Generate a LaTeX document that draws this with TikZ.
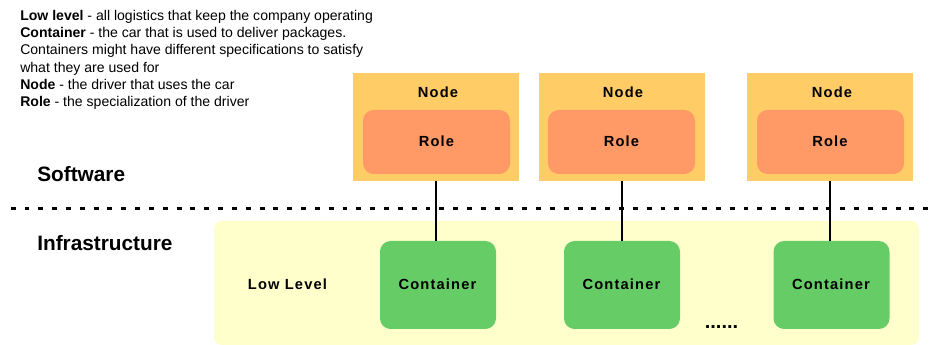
\documentclass[tikz,border=0pt]{standalone}
\usepackage{fontspec}
\setmainfont{Liberation Sans}
\definecolor{nodefill}{HTML}{FFCC66}
\definecolor{rolefill}{HTML}{FF9966}
\definecolor{contfill}{HTML}{66CC66}
\definecolor{infrafill}{HTML}{FFFFCC}
\tikzset{
  px/.style={x=0.75pt,y=-0.75pt},
  box/.style={minimum width=#1*0.75pt,inner sep=0pt,outer sep=0pt},
  nodebox/.style={box=166,minimum height=81pt,fill=nodefill},
  rolebox/.style={box=147,minimum height=48pt,fill=rolefill,rounded corners=8pt},
  contbox/.style={box=116,minimum height=66pt,fill=contfill,rounded corners=8pt},
  infra/.style={box=705,minimum height=93pt,fill=infrafill,rounded corners=6pt},
  lab/.style={font=\fontsize{11pt}{12pt}\selectfont\bfseries\addfontfeatures{LetterSpace=8},inner sep=0pt},
  head/.style={font=\fontsize{15.6pt}{17pt}\selectfont\bfseries,inner sep=0pt,anchor=west},
  wire/.style={draw=black,line width=1.5pt},
  sep/.style={draw=black,line width=1.7pt,dash pattern=on 3.7pt off 6.67pt},
}
\begin{document}
\begin{tikzpicture}[px]
\useasboundingbox (0,0) rectangle (932,345);
\node[infra] (inf) at (566.5,283) {};
\node[nodebox] (n1) at (436.25,127) {};
\node[nodebox] (n2) at (622,127) {};
\node[nodebox] (n3) at (830,127) {};
\node[rolebox] (r1) at (436.5,142) {};
\node[rolebox] (r2) at (621.5,142) {};
\node[rolebox] (r3) at (830.5,142) {};
\node[contbox] (c1) at (438,285) {};
\node[contbox] (c2) at (622,285) {};
\node[contbox] (c3) at (831.5,285) {};
\node[lab] (nt1) at (438,92) {Node};
\node[lab] (nt2) at (623,92) {Node};
\node[lab] (nt3) at (832,92) {Node};
\node[lab] (rt1) at (436.5,141) {Role};
\node[lab] (rt2) at (621.5,141) {Role};
\node[lab] (rt3) at (830,141) {Role};
\node[lab] (ct1) at (437.5,284) {Container};
\node[lab] (ct2) at (621.5,284) {Container};
\node[lab] (ct3) at (831,284) {Container};
\node[lab] (ll) at (287.5,284) {Low Level};
\node[inner sep=0pt,anchor=base,font=\fontsize{15pt}{16pt}\selectfont\bfseries] (dots) at (721.5,329) {......};
\node[head] (sw) at (37,174) {Software};
\node[head] (in) at (37,243) {Infrastructure};
\coordinate (sl) at (10.7,208.5);
\coordinate (sr) at (931,208.5);
\draw[sep] (sl) -- (sr);
\draw[wire] (n1.south) -- (n1.south |- c1.north);
\draw[wire] (n2.south) -- (n2.south |- c2.north);
\draw[wire] (n3.south) -- (n3.south |- c3.north);
\node[anchor=north west,inner sep=0pt,align=left,font=\fontsize{10.55pt}{12.95pt}\selectfont] (legend) at (20,10) {%
\textbf{Low level} - all logistics that keep the company operating\\
\textbf{Container} - the car that is used to deliver packages.\\
Containers might have different specifications to satisfy\\
what they are used for\\
\textbf{Node} - the driver that uses the car\\
\textbf{Role} - the specialization of the driver};
\end{tikzpicture}
\end{document}
